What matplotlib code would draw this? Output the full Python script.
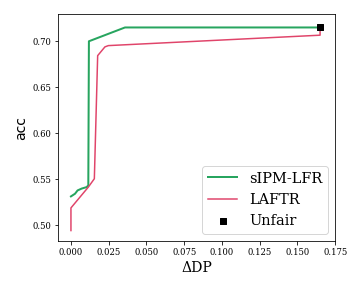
import matplotlib
matplotlib.use("Agg")
import matplotlib.pyplot as plt

plt.rcParams["font.family"] = ["DejaVu Serif"]

# sIPM-LFR trade-off curve
sipm_dp = [0.0, 0.0027, 0.0044, 0.0071, 0.0104, 0.0115, 0.0119, 0.0358, 0.165]
sipm_acc = [0.5315, 0.5344, 0.538, 0.540, 0.5416, 0.5435, 0.700, 0.715, 0.715]

# LAFTR trade-off curve
laftr_dp = [0.0, 0.0, 0.0115, 0.0155, 0.0177, 0.0225, 0.0248, 0.165, 0.165]
laftr_acc = [0.4944, 0.519, 0.5416, 0.5507, 0.6844, 0.6939, 0.6953, 0.7066, 0.715]

# unfair baseline
unfair_dp = [0.165]
unfair_acc = [0.715]

fig = plt.figure(figsize=(5, 4), dpi=72)
ax = fig.add_axes([0.161, 0.163, 0.770, 0.788])

ax.plot(sipm_dp, sipm_acc, color="#27a55f", lw=2.0, label="sIPM-LFR")
ax.plot(laftr_dp, laftr_acc, color="#e0446a", lw=1.5, label="LAFTR")
ax.scatter(unfair_dp, unfair_acc, marker="s", s=36, color="black", zorder=3, label="Unfair")

ax.set_xlim(-0.0086, 0.175)
ax.set_ylim(0.483, 0.7295)
ax.set_xticks([0.0, 0.025, 0.05, 0.075, 0.1, 0.125, 0.15, 0.175])
ax.set_yticks([0.50, 0.55, 0.60, 0.65, 0.70])
ax.tick_params(labelsize=8.5)
ax.set_xlabel("ΔDP", fontsize=14)
ax.set_ylabel("acc", fontsize=14, family="DejaVu Sans")
ax.legend(loc="lower right", fontsize=14.5)

fig.savefig("out.png", dpi=72)
